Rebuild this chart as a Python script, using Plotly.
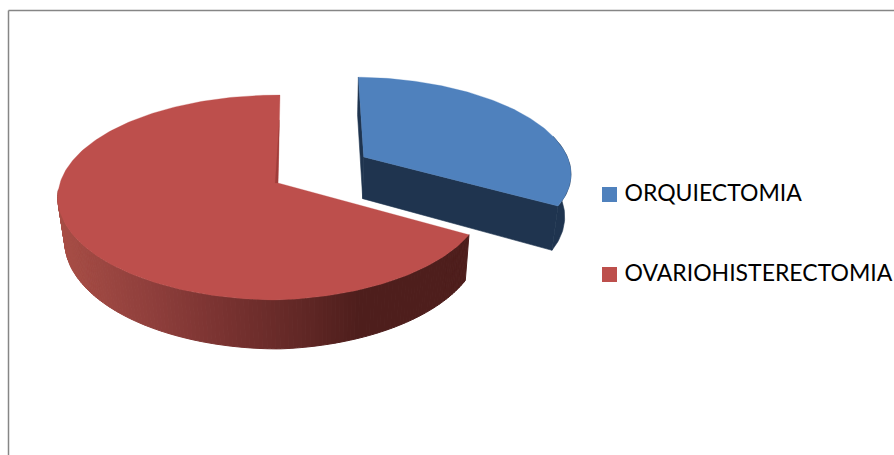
import numpy as np
import plotly.graph_objects as go

# Data
categories = ["ORQUIECTOMIA", "OVARIOHISTERECTOMIA"]
values = [33.3, 66.7]

BLUE_TOP, BLUE_SIDE = "#4f81bd", "#1f344f"
RED_TOP, RED_CUT = "#bd4f4c", "#a03c3a"
W, H = 894, 455
CX, CY, A, B, K = 278.0, 183.0, 218.0, 100.4, 0.1415
START_DEG = 0.6
BLUE_START_DEG = 1.5
BLUE_R = 0.97
BLUE_OFF = (0.408, 0.269)


def project(u, v, depth=False):
    u, v = np.asarray(u, float), np.asarray(v, float)
    w = 1 + K * v
    x = CX + A * u / w
    y = CY - B * v / w
    if depth:
        x = x - 0.026 * (x - 327)
        y = y + 43 / w ** 0.85
    return x, y


def arc(t0, t1, r=1.0, off=(0, 0), n=120, squeeze=0.0):
    t = np.radians(np.linspace(t0, t1, n))
    rr = r * (1 - squeeze * np.maximum(np.sin(t), 0))
    return off[0] + rr * np.sin(t), off[1] + rr * np.cos(t)


def poly(fig, x, y, color, lw=0.6):
    fig.add_trace(go.Scatter(x=list(x) + [x[0]], y=list(y) + [y[0]], mode="lines",
                             fill="toself", fillcolor=color,
                             line=dict(color=color, width=lw),
                             hoverinfo="skip", showlegend=False))


def red_shade(x):
    stops = [58, 150, 220, 300, 360, 470]
    r = [168, 143, 122, 98, 78, 78]
    g = [78, 63, 51, 40, 30, 30]
    b = [70, 60, 49, 38, 28, 28]
    return "rgb(%d,%d,%d)" % (np.interp(x, stops, r), np.interp(x, stops, g), np.interp(x, stops, b))


fig = go.Figure()
total = sum(values)
blue_end = START_DEG + 360 * values[0] / total
red_end = START_DEG + 360

# --- blue slice (exploded) ---
u, v = arc(BLUE_START_DEG, blue_end, BLUE_R, BLUE_OFF)
tx, ty = project(u, v)
bx, by = project(u, v, True)
ax, ay = project(BLUE_OFF[0], BLUE_OFF[1])
abx, aby = project(BLUE_OFF[0], BLUE_OFF[1], True)
ax, ay, abx, aby = float(ax), float(ay), float(abx), float(aby)
poly(fig, [tx[0], ax, abx, bx[0]], [ty[0], ay, aby, by[0]], BLUE_SIDE)
vis = 75
poly(fig, list(tx[vis:]) + list(bx[vis:][::-1]), list(ty[vis:]) + list(by[vis:][::-1]), BLUE_SIDE)
poly(fig, [ax, tx[-1], bx[-1], abx], [ay, ty[-1], by[-1], aby], BLUE_SIDE)
poly(fig, [ax] + list(tx), [ay] + list(ty), BLUE_TOP, lw=0.3)

# --- red slice ---
u, v = arc(blue_end, red_end, 1.0, (0, 0), 240, squeeze=0.061)
tx, ty = project(u, v)
bx, by = project(u, v, True)
for i in range(0, 145):
    poly(fig, [tx[i], tx[i + 1], bx[i + 1], bx[i]], [ty[i], ty[i + 1], by[i + 1], by[i]],
         red_shade((tx[i] + tx[i + 1]) / 2), lw=1)
ax, ay = project(0, 0)
poly(fig, [float(ax)] + list(tx), [float(ay)] + list(ty), RED_TOP, lw=0.3)
sx, sy = project([0.007, -0.013, 0.0], [0.69, 0.0, 0.0])
poly(fig, list(sx), list(sy), RED_CUT, lw=0.2)

# --- legend entries ---
SWATCH_X, TEXT_X, LEG_Y = 609.5, 624.5, [194.5, 274.5]
for name, col, ly in zip(categories, [BLUE_TOP, RED_TOP], LEG_Y):
    fig.add_trace(go.Scatter(x=[SWATCH_X], y=[ly], mode="markers", name=name,
                             hoverinfo="skip", showlegend=False,
                             marker=dict(symbol="square", size=15, color=col)))
    fig.add_trace(go.Scatter(x=[TEXT_X], y=[ly + 1], mode="text", name=name, text=[name],
                             textposition="middle right", hoverinfo="skip", showlegend=False,
                             textfont=dict(family="Lato", size=23, color="#000000"),
                             cliponaxis=False))

# chart-area frame (left and top only)
frame = dict(color="#868686", width=1.5)
fig.add_shape(type="line", x0=8.5, x1=8.5, y0=10.5, y1=H, line=frame)
fig.add_shape(type="line", x0=8.5, x1=W, y0=10.5, y1=10.5, line=frame)

fig.update_layout(
    width=W, height=H, autosize=False, margin=dict(l=0, r=0, t=0, b=0),
    paper_bgcolor="white", plot_bgcolor="white", showlegend=False,
    xaxis=dict(range=[0, W], visible=False, fixedrange=True),
    yaxis=dict(range=[H, 0], visible=False, fixedrange=True),
)
fig.write_html("out.html", config={"displayModeBar": False},
               post_script="document.body.style.margin='0';document.body.style.overflow='hidden';")
